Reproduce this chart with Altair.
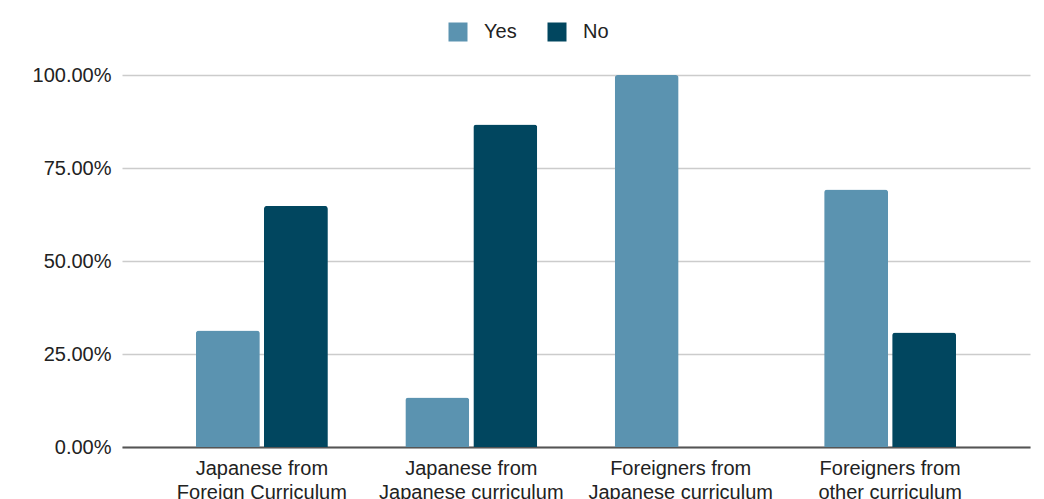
import altair as alt
import pandas as pd

categories = [
    "Japanese from|Foreign Curriculum",
    "Japanese from|Japanese curriculum",
    "Foreigners from|Japanese curriculum",
    "Foreigners from|other curriculum",
]
series = ["Yes", "No"]
yes_vals = [0.313, 0.133, 1.0, 0.692]
no_vals = [0.648, 0.867, 0.0, 0.308]
colors = ["#5b93b0", "#01465f"]

rows = []
for c, y, n in zip(categories, yes_vals, no_vals):
    rows.append({"cat": c, "series": "Yes", "value": y})
    rows.append({"cat": c, "series": "No", "value": n})
df = pd.DataFrame(rows)

FONT = "Liberation Sans"

chart = (
    alt.Chart(df)
    .mark_bar(cornerRadiusTopLeft=3, cornerRadiusTopRight=3)
    .encode(
        x=alt.X(
            "cat:N",
            sort=categories,
            title=None,
            scale=alt.Scale(paddingInner=0.37, paddingOuter=0.353),
            axis=alt.Axis(
                labelExpr="split(datum.label, '|')",
                labelAngle=0,
                labelFontSize=20,
                labelFont=FONT,
                labelColor="#222222",
                labelLineHeight=24,
                labelPadding=11,
                labelLimit=300,
                labelOverlap=False,
                ticks=False,
                domainColor="#555555",
                domainWidth=2,
            ),
        ),
        xOffset=alt.XOffset(
            "series:N", sort=series, scale=alt.Scale(paddingInner=0.06, paddingOuter=0)
        ),
        y=alt.Y(
            "value:Q",
            title=None,
            scale=alt.Scale(domain=[0, 1], nice=False),
            axis=alt.Axis(
                values=[0, 0.25, 0.5, 0.75, 1.0],
                format=".2%",
                labelFontSize=20,
                labelFont=FONT,
                labelColor="#222222",
                labelPadding=11,
                ticks=False,
                domain=False,
                gridColor="#cccccc",
                gridWidth=1.5,
            ),
        ),
        color=alt.Color(
            "series:N",
            sort=series,
            scale=alt.Scale(domain=series, range=colors),
            legend=alt.Legend(
                title=None,
                orient="none",
                direction="horizontal",
                legendX=326,
                legendY=-53,
                symbolType="square",
                symbolSize=361,
                symbolStrokeWidth=0,
                labelFontSize=20,
                labelFont=FONT,
                labelColor="#222222",
                labelOffset=16,
                columnPadding=30,
            ),
        ),
    )
    .properties(
        width=908,
        height=372,
        autosize=alt.AutoSizeParams(type="none"),
        padding={"left": 122, "top": 75, "right": 14, "bottom": 52},
    )
    .configure_view(stroke=None)
)

chart.save("out.html", embed_options={"renderer": "svg", "actions": False})
